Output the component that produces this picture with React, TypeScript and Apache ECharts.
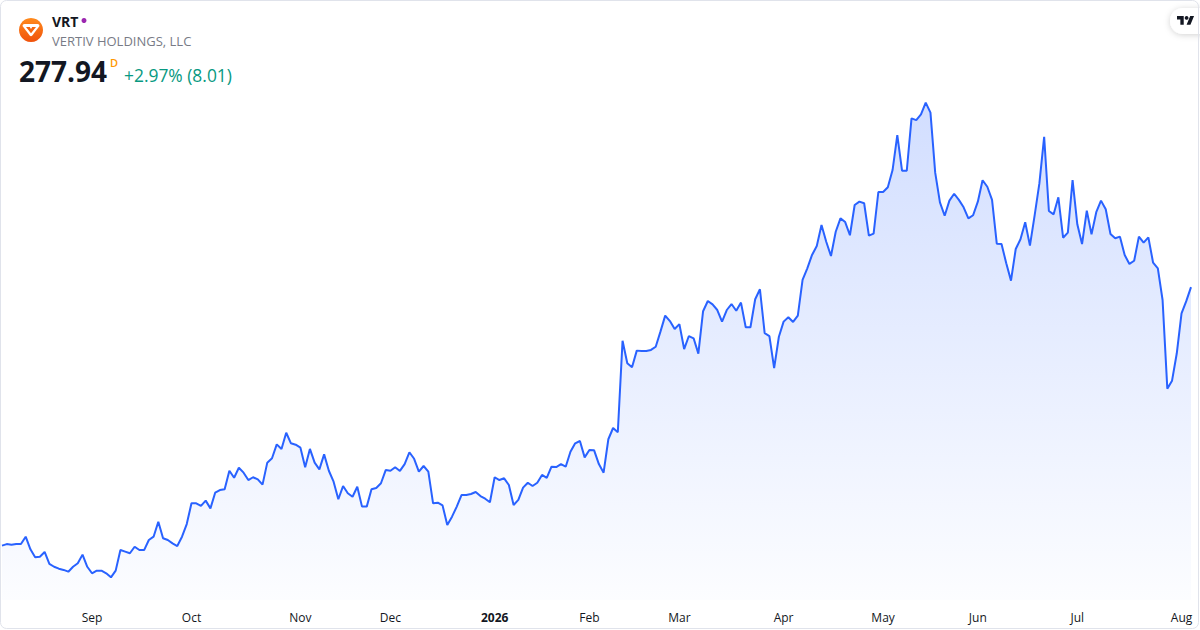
import { useEffect, useRef } from 'react'
import * as echarts from 'echarts'

// 日线收盘价（约一年）
const prices = [
  130.9, 131.8, 131.4, 131.8, 131.8, 136.0, 128.8, 124.3, 124.6, 127.3,
  120.5, 118.9, 117.8, 117.1, 116.1, 118.9, 120.9, 125.8, 118.9, 115.2,
  116.7, 116.7, 115.2, 112.9, 116.7, 128.4, 127.5, 126.6, 130.3, 128.4,
  128.4, 134.1, 136.0, 144.5, 135.1, 134.1, 132.2, 130.7, 136.0, 143.2,
  155.0, 155.0, 153.5, 156.5, 152.1, 161.0, 162.5, 163.0, 173.5, 169.5,
  175.2, 172.4, 168.2, 169.8, 168.6, 165.6, 178.1, 180.6, 188.5, 185.9,
  195.1, 189.1, 188.3, 186.6, 175.5, 185.9, 178.1, 174.3, 182.8, 173.5,
  167.3, 157.3, 164.8, 160.7, 158.7, 164.4, 153.1, 153.1, 163.0, 163.7,
  166.4, 173.9, 173.5, 175.5, 173.4, 177.3, 184.0, 180.3, 173.0, 176.2,
  173.0, 155.0, 155.3, 153.8, 142.6, 147.4, 153.1, 159.7, 159.7, 160.3,
  161.4, 159.1, 157.6, 155.6, 169.8, 168.2, 169.2, 165.4, 154.0, 156.9,
  163.9, 166.7, 164.8, 166.7, 171.1, 169.5, 175.8, 175.6, 177.2, 175.8,
  184.3, 189.1, 190.4, 181.1, 185.3, 185.1, 177.3, 172.4, 191.4, 197.8,
  195.4, 247.4, 234.6, 232.3, 241.8, 241.6, 241.6, 242.2, 244.0, 252.6,
  261.7, 258.6, 254.1, 256.9, 242.7, 250.1, 248.8, 240.1, 264.2, 270.0,
  268.1, 264.9, 258.3, 264.9, 268.3, 264.5, 269.1, 255.1, 255.1, 271.0,
  276.7, 251.7, 250.1, 231.8, 249.7, 258.3, 260.8, 258.1, 261.7, 282.0,
  288.6, 296.2, 301.3, 313.2, 303.7, 295.6, 309.4, 317.0, 314.9, 307.4,
  324.6, 326.5, 325.6, 307.2, 308.3, 332.0, 332.0, 334.7, 344.5, 364.4,
  344.1, 344.1, 373.9, 372.9, 376.2, 382.8, 377.1, 343.0, 326.1, 318.5,
  327.1, 331.0, 327.5, 323.3, 317.0, 318.8, 326.5, 338.7, 335.0, 327.5,
  302.6, 302.4, 291.5, 281.6, 299.6, 305.1, 314.8, 301.5, 318.9, 337.0,
  363.4, 321.2, 319.3, 329.0, 306.0, 308.9, 338.8, 313.6, 302.4, 321.4,
  307.9, 320.5, 327.1, 322.2, 308.1, 305.7, 306.6, 296.2, 291.1, 292.9,
  306.6, 303.2, 306.2, 291.8, 288.6, 270.6, 220.2, 224.7, 240.3, 263.0,
  269.93, 277.94,
]

// 每月第一个交易日的位置 + 标签
const tickIndexes = [19, 40, 63, 82, 104, 124, 143, 165, 186, 206, 227, 249]
const tickLabels = ['Sep', 'Oct', 'Nov', 'Dec', '2026', 'Feb', 'Mar', 'Apr', 'May', 'Jun', 'Jul', 'Aug']

const symbol = 'VRT'
const companyName = 'VERTIV HOLDINGS, LLC'
const lastPrice = '277.94'
const changeText = '+2.97% (8.01)'

const FONT = '"Open Sans", "Noto Sans", sans-serif'

echarts.graphic.registerShape(
  'tvlogo',
  echarts.graphic.extendPath('M14 22L7 22L7 11L0 11L0 4L14 4Z M28 22L20 22L27.5 4L35.5 4Z', {}),
)
echarts.graphic.registerShape(
  'vertivOuter',
  echarts.graphic.extendPath('M-8.5 -4.5 Q-8.5 -6.5 -6.5 -6.5 L6.5 -6.5 Q8.5 -6.5 8.5 -4.5 L1.3 5 Q0 6.6 -1.3 5 Z', {}),
)
echarts.graphic.registerShape(
  'vertivInner',
  echarts.graphic.extendPath('M-5 -3.6 L-1.2 -3.6 L0 -1.6 L1.2 -3.6 L5 -3.6 L0 2.8 Z', {}),
)

export default function App() {
  const chartRef = useRef<HTMLDivElement>(null)

  useEffect(() => {
    document.body.style.margin = '0'
    if (!chartRef.current) return
    const chart = echarts.init(chartRef.current, null, { renderer: 'svg' })

    const categories = prices.map((_, i) => String(i))
    const tickMap = new Map<number, string>()
    tickIndexes.forEach((idx, k) => tickMap.set(idx, tickLabels[k]))

    const option: echarts.EChartsOption = {
      backgroundColor: '#ffffff',
      animation: false,
      grid: { left: 2, right: 9, top: 90, bottom: 30 },
      xAxis: {
        type: 'category',
        data: categories,
        boundaryGap: false,
        axisLine: { show: false },
        axisTick: { show: false },
        splitLine: { show: false },
        axisLabel: {
          margin: 11,
          color: '#131722',
          fontSize: 12,
          fontFamily: FONT,
          hideOverlap: false,
          interval: (idx: number) => tickMap.has(idx),
          formatter: (_v: string, idx: number) => {
            const label = tickMap.get(idx) ?? ''
            return /^\d{4}$/.test(label) ? `{b|${label}}` : label
          },
          rich: {
            b: { fontWeight: 'bold', fontSize: 12, color: '#131722', fontFamily: FONT },
          },
        },
      },
      yAxis: {
        type: 'value',
        min: 100,
        max: 390,
        show: false,
        splitLine: { show: false },
      },
      series: [
        {
          type: 'line',
          data: prices,
          symbol: 'none',
          smooth: false,
          lineStyle: { color: '#2962ff', width: 2 },
          areaStyle: {
            color: new echarts.graphic.LinearGradient(0, 0, 0, 1, [
              { offset: 0, color: 'rgba(41,98,255,0.3)' },
              { offset: 1, color: 'rgba(41,98,255,0.02)' },
            ]),
          },
        },
      ],
      graphic: {
        elements: [
          // 卡片边框
          {
            type: 'rect',
            shape: { x: 0.5, y: 0.5, width: 1198, height: 628, r: 6 },
            style: { fill: 'none', stroke: '#e0e3eb', lineWidth: 1 },
            silent: true,
            z: 100,
          },
          // logo
          {
            type: 'circle',
            shape: { cx: 31, cy: 30, r: 12 },
            style: {
              fill: new echarts.graphic.LinearGradient(0, 0, 0, 1, [
                { offset: 0, color: '#ff8a1c' },
                { offset: 1, color: '#f0520c' },
              ]),
            },
          },
          { type: 'vertivOuter', x: 31, y: 30.5, style: { fill: '#ffffff' } } as any,
          { type: 'vertivInner', x: 31, y: 30.5, style: { fill: '#f5650f' } } as any,
          {
            type: 'text', x: 52, y: 21,
            style: { text: symbol, fill: '#131722', fontSize: 14, fontWeight: 'bold', fontFamily: FONT, verticalAlign: 'middle' },
          },
          { type: 'circle', shape: { cx: 84, cy: 20.5, r: 2.5 }, style: { fill: '#9c27b0' } },
          {
            type: 'text', x: 52, y: 41,
            style: { text: companyName, fill: '#787b86', fontSize: 13, fontFamily: FONT, verticalAlign: 'middle' },
          },
          {
            type: 'text', x: 19, y: 71,
            style: { text: lastPrice, fill: '#131722', fontSize: 28, fontWeight: 'bold', fontFamily: FONT, verticalAlign: 'middle' },
          },
          {
            type: 'text', x: 110, y: 62,
            style: { text: 'D', fill: '#ff9800', fontSize: 11, fontWeight: 600, fontFamily: FONT, verticalAlign: 'middle' },
          },
          {
            type: 'text', x: 124, y: 74.5,
            style: { text: changeText, fill: '#089981', fontSize: 17.4, fontFamily: FONT, verticalAlign: 'middle' },
          },
          // TradingView 标
          {
            type: 'rect',
            shape: { x: 1170, y: 8, width: 44, height: 26, r: 13 },
            style: { fill: '#ffffff', shadowBlur: 6, shadowColor: 'rgba(0,0,0,0.18)', shadowOffsetY: 1 },
          },
          { type: 'tvlogo', x: 1177, y: 14.1, scaleX: 0.48, scaleY: 0.48, style: { fill: '#131722' } } as any,
          { type: 'circle', shape: { cx: 1186.6, cy: 17.9, r: 1.9 }, style: { fill: '#131722' } },
        ],
      },
    }

    chart.setOption(option)
    return () => chart.dispose()
  }, [])

  return <div ref={chartRef} style={{ width: 1200, height: 630 }} />
}
